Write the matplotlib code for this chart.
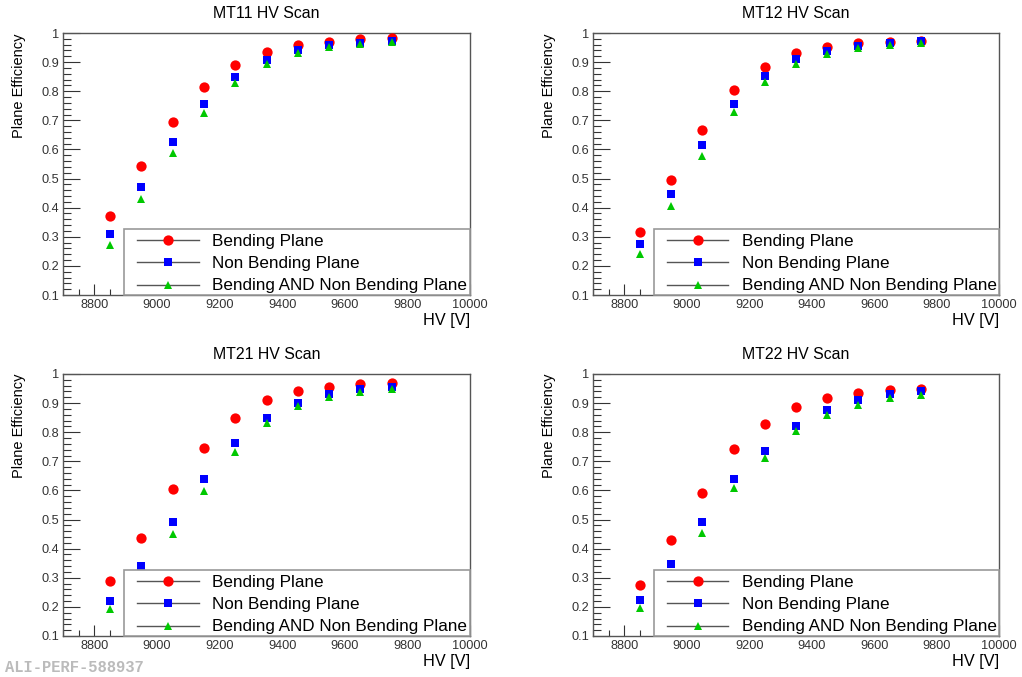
import matplotlib
matplotlib.use("Agg")
import matplotlib.pyplot as plt
from matplotlib.patches import Rectangle
from matplotlib.ticker import MultipleLocator, FuncFormatter

plt.rcParams['font.family'] = ['Liberation Sans', 'DejaVu Sans']

hv = [8850, 8950, 9050, 9150, 9250, 9350, 9450, 9550, 9650, 9750]

titles = ["MT11 HV Scan", "MT12 HV Scan", "MT21 HV Scan", "MT22 HV Scan"]
labels = ["Bending Plane", "Non Bending Plane", "Bending AND Non Bending Plane"]

# efficiencies
mt11_bend = [0.373, 0.543, 0.694, 0.815, 0.891, 0.934, 0.959, 0.970, 0.978, 0.982]
mt11_nonbend = [0.310, 0.470, 0.626, 0.755, 0.848, 0.906, 0.940, 0.958, 0.967, 0.973]
mt11_both = [0.273, 0.430, 0.588, 0.725, 0.828, 0.894, 0.931, 0.951, 0.962, 0.968]

mt12_bend = [0.315, 0.496, 0.668, 0.803, 0.884, 0.930, 0.953, 0.964, 0.969, 0.974]
mt12_nonbend = [0.274, 0.446, 0.615, 0.757, 0.851, 0.911, 0.939, 0.956, 0.967, 0.971]
mt12_both = [0.242, 0.405, 0.576, 0.727, 0.830, 0.895, 0.929, 0.947, 0.959, 0.964]

mt21_bend = [0.290, 0.437, 0.606, 0.747, 0.849, 0.912, 0.943, 0.956, 0.966, 0.968]
mt21_nonbend = [0.219, 0.341, 0.493, 0.639, 0.763, 0.849, 0.900, 0.931, 0.947, 0.954]
mt21_both = [0.193, 0.300, 0.452, 0.599, 0.733, 0.830, 0.889, 0.922, 0.938, 0.948]

mt22_bend = [0.274, 0.430, 0.592, 0.742, 0.828, 0.888, 0.917, 0.936, 0.945, 0.947]
mt22_nonbend = [0.223, 0.349, 0.491, 0.639, 0.736, 0.821, 0.875, 0.911, 0.931, 0.940]
mt22_both = [0.197, 0.315, 0.455, 0.608, 0.713, 0.803, 0.858, 0.895, 0.916, 0.927]

data = [
    (mt11_bend, mt11_nonbend, mt11_both),
    (mt12_bend, mt12_nonbend, mt12_both),
    (mt21_bend, mt21_nonbend, mt21_both),
    (mt22_bend, mt22_nonbend, mt22_both),
]

styles = [
    dict(marker='o', color='#ff0000', markersize=7.4),
    dict(marker='s', color='#0000ff', markersize=6.2),
    dict(marker='^', color='#00c800', markersize=6.4),
]

fig = plt.figure(figsize=(10.22, 6.77), dpi=100)

positions = [
    [63 / 1022, 1 - 295 / 677, 407 / 1022, 262 / 677],
    [593 / 1022, 1 - 295 / 677, 406 / 1022, 262 / 677],
    [63 / 1022, 1 - 636 / 677, 407 / 1022, 262 / 677],
    [593 / 1022, 1 - 636 / 677, 406 / 1022, 262 / 677],
]

for pos, title, series in zip(positions, titles, data):
    ax = fig.add_axes(pos)
    handles = []
    for vals, st in zip(series, styles):
        ax.plot(hv, vals, linestyle='none', marker=st['marker'],
                markersize=st['markersize'], color=st['color'],
                markeredgewidth=0, zorder=3)
        h, = ax.plot([], [], color='#555555', lw=1.0, marker=st['marker'],
                     markersize=st['markersize'], markerfacecolor=st['color'],
                     markeredgewidth=0)
        handles.append(h)

    ax.set_xlim(8700, 10000)
    ax.set_ylim(0.1, 1.0)

    ax.xaxis.set_major_locator(MultipleLocator(200))
    ax.xaxis.set_minor_locator(MultipleLocator(50))
    ax.yaxis.set_major_locator(MultipleLocator(0.1))
    ax.yaxis.set_minor_locator(MultipleLocator(0.02))
    ax.yaxis.set_major_formatter(FuncFormatter(lambda v, p: '%g' % round(v, 2)))
    ax.tick_params(axis='both', which='both', direction='in', top=False,
                   right=False, colors='#333333', labelsize=9.2, width=0.8)
    ax.tick_params(axis='y', which='major', length=12, pad=3)
    ax.tick_params(axis='y', which='minor', length=6)
    ax.tick_params(axis='x', which='major', length=8, pad=3)
    ax.tick_params(axis='x', which='minor', length=4)
    for s in ax.spines.values():
        s.set_color('#555555')
        s.set_linewidth(1.0)

    ax.set_title(title, fontsize=11.4, pad=11)
    ax.set_ylabel("Plane Efficiency", fontsize=10.5, loc='top')
    ax.yaxis.set_label_coords(-0.092, 1.0)
    ax.set_xlabel("HV [V]", fontsize=11.7, loc='right')
    ax.xaxis.set_label_coords(1.0, -0.068)

    box = Rectangle((0.15, 0.0), 0.85, 0.251, transform=ax.transAxes,
                    facecolor='white', edgecolor='#999999', lw=1.2, zorder=5,
                    clip_on=False)
    ax.add_patch(box)
    leg = ax.legend(handles, labels, loc='center left',
                    bbox_to_anchor=(0.182, 0.119), frameon=False, fontsize=12.3,
                    handlelength=3.6, handletextpad=0.78, labelspacing=0.42,
                    borderpad=0, borderaxespad=0)
    leg.set_zorder(6)

fig.text(5 / 1022, 1 - 667 / 677, "ALI-PERF-588937", family='Liberation Mono',
         fontweight='bold', fontsize=11.2, color='#bbbbbb', va='center')

fig.savefig("out.png", dpi=100)
